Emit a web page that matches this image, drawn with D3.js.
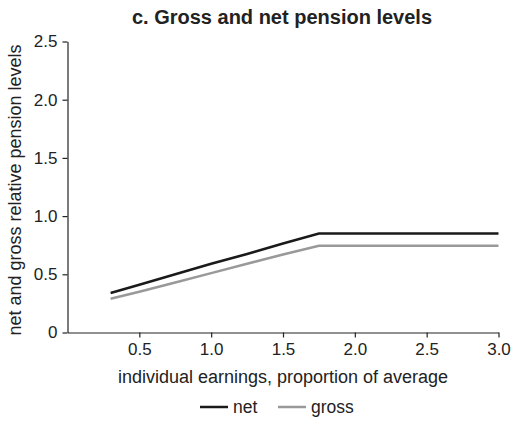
<!DOCTYPE html>
<html><head><meta charset="utf-8">
<script src="https://cdn.jsdelivr.net/npm/d3@7"></script>
<style>body{margin:0;background:#fff}text{font-family:"Liberation Sans",Arial,sans-serif;fill:#222}</style>
</head><body><svg id="c" width="511" height="421"></svg>
<script>
const earnings = [0.3, 0.5, 0.75, 1.0, 1.25, 1.5, 1.75, 2.0, 2.5, 3.0];
const netValues = [0.34, 0.41, 0.50, 0.59, 0.675, 0.765, 0.85, 0.85, 0.85, 0.85];
const grossValues = [0.29, 0.35, 0.43, 0.51, 0.59, 0.67, 0.745, 0.745, 0.745, 0.745];
const xTicks = [0.5, 1.0, 1.5, 2.0, 2.5, 3.0];
const yTicks = [0, 0.5, 1.0, 1.5, 2.0, 2.5];
const seriesNames = ["net", "gross"];
const seriesColors = ["#1a1a1a", "#999999"];

const svg = d3.select("#c");
const x = d3.scaleLinear().domain([0, 3]).range([67.5, 498.5]);
const y = d3.scaleLinear().domain([0, 2.5]).range([332.5, 41.5]);

const xa = svg.append("g").attr("transform", "translate(0,332.5)")
  .call(d3.axisBottom(x).tickValues(xTicks).tickFormat(d3.format(".1f")).tickSize(5).tickPadding(5).tickSizeOuter(0));
const ya = svg.append("g").attr("transform", "translate(67.5,0)")
  .call(d3.axisLeft(y).tickValues(yTicks).tickFormat(d => d === 0 ? "0" : d3.format(".1f")(d)).tickSize(5).tickPadding(5).tickSizeOuter(0));
[xa, ya].forEach(a => {
  a.selectAll("path,line").attr("stroke", "#222").attr("stroke-width", 1.2);
  a.selectAll("text").attr("font-size", 17).attr("font-family", "Liberation Sans, Arial, sans-serif").style("fill", "#222");
});

const line = d3.line().x((d, i) => x(earnings[i])).y(d => y(d));
[netValues, grossValues].forEach((vals, k) => {
  svg.append("path").datum(vals).attr("d", line).attr("fill", "none")
    .attr("stroke", seriesColors[k]).attr("stroke-width", 2.5);
});

svg.append("text").attr("x", 282).attr("y", 24).attr("text-anchor", "middle")
  .attr("font-size", 20).attr("font-weight", "bold").text("c. Gross and net pension levels");
svg.append("text").attr("x", 283).attr("y", 383).attr("text-anchor", "middle")
  .attr("font-size", 18).text("individual earnings, proportion of average");
svg.append("text").attr("transform", "translate(21,190) rotate(-90)").attr("text-anchor", "middle")
  .attr("font-size", 18).text("net and gross relative pension levels");

const legX = [200, 278];
seriesNames.forEach((n, k) => {
  svg.append("line").attr("x1", legX[k]).attr("x2", legX[k] + 28).attr("y1", 407).attr("y2", 407)
    .attr("stroke", seriesColors[k]).attr("stroke-width", 2.5);
  svg.append("text").attr("x", legX[k] + 33).attr("y", 413).attr("font-size", 17.5).text(n);
});
</script></body></html>
